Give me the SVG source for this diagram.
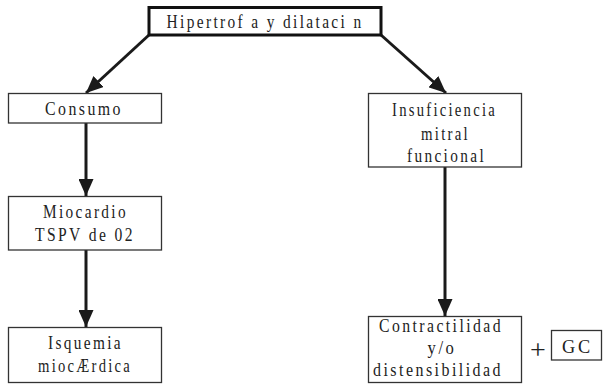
<svg xmlns="http://www.w3.org/2000/svg" width="603" height="384" viewBox="0 0 603 384">
<defs>
<marker id="ah" markerUnits="userSpaceOnUse" markerWidth="17" markerHeight="15" refX="17" refY="7.5" orient="auto">
<path d="M0,0 L17,7.5 L0,15 z" fill="#1a1a1a"/>
</marker>
<style>
.box{fill:#fff;stroke:#333;stroke-width:1.3}
.top{fill:#fff;stroke:#111;stroke-width:3}
.t{font-family:"Liberation Serif","Times New Roman",serif;font-size:19.5px;letter-spacing:3px;fill:#222;text-anchor:middle}
.c{stroke:#1a1a1a;stroke-width:3;fill:none}
</style>
</defs>
<rect width="603" height="384" fill="#fff"/>
<g id="connectors">
<line class="c" x1="149" y1="35" x2="86" y2="93" marker-end="url(#ah)"/>
<line class="c" x1="381" y1="35" x2="446" y2="93" marker-end="url(#ah)"/>
<line class="c" x1="86" y1="123" x2="86" y2="196" marker-end="url(#ah)"/>
<line class="c" x1="86" y1="250" x2="86" y2="327" marker-end="url(#ah)"/>
<line class="c" x1="445" y1="167" x2="445" y2="316" marker-end="url(#ah)"/>
</g>
<g id="n-hipertrofia">
<rect class="top" x="149" y="7.5" width="232" height="27.5"/>
<text class="t" x="265" y="27.5" textLength="197" lengthAdjust="spacingAndGlyphs">Hipertrof a y dilataci n</text>
</g>
<g id="n-consumo">
<rect class="box" x="8.5" y="93.5" width="153" height="29.5"/>
<text class="t" x="84" y="115" textLength="78" lengthAdjust="spacingAndGlyphs">Consumo</text>
</g>
<g id="n-insuficiencia">
<rect class="box" x="368.5" y="93.5" width="153" height="73.5"/>
<text class="t" x="444.5" y="116" textLength="105" lengthAdjust="spacingAndGlyphs">Insuficiencia</text>
<text class="t" x="445.5" y="140" textLength="49" lengthAdjust="spacingAndGlyphs">mitral</text>
<text class="t" x="446.5" y="162" textLength="79" lengthAdjust="spacingAndGlyphs">funcional</text>
</g>
<g id="n-miocardio">
<rect class="box" x="8.5" y="196.5" width="153" height="53.5"/>
<text class="t" x="85.5" y="218" textLength="85" lengthAdjust="spacingAndGlyphs">Miocardio</text>
<text class="t" x="85" y="241" textLength="100" lengthAdjust="spacingAndGlyphs">TSPV de 02</text>
</g>
<g id="n-isquemia">
<rect class="box" x="8.5" y="327.5" width="153" height="55"/>
<text class="t" x="85.5" y="349" textLength="75" lengthAdjust="spacingAndGlyphs">Isquemia</text>
<text class="t" x="85" y="372" textLength="94" lengthAdjust="spacingAndGlyphs">miocÆrdica</text>
</g>
<g id="n-contractilidad">
<rect class="box" x="368.5" y="316.5" width="153" height="66"/>
<text class="t" x="441" y="332" textLength="124" lengthAdjust="spacingAndGlyphs">Contractilidad</text>
<text class="t" x="442" y="354" textLength="29" lengthAdjust="spacingAndGlyphs">y/o</text>
<text class="t" x="438" y="376" textLength="130" lengthAdjust="spacingAndGlyphs">distensibilidad</text>
</g>
<text class="t" x="538" y="359" style="font-size:28px;letter-spacing:0">+</text>
<g id="n-gc">
<rect class="box" x="551.5" y="330.5" width="50" height="29.5"/>
<text class="t" x="577.5" y="353" textLength="31" lengthAdjust="spacingAndGlyphs">GC</text>
</g>
</svg>
